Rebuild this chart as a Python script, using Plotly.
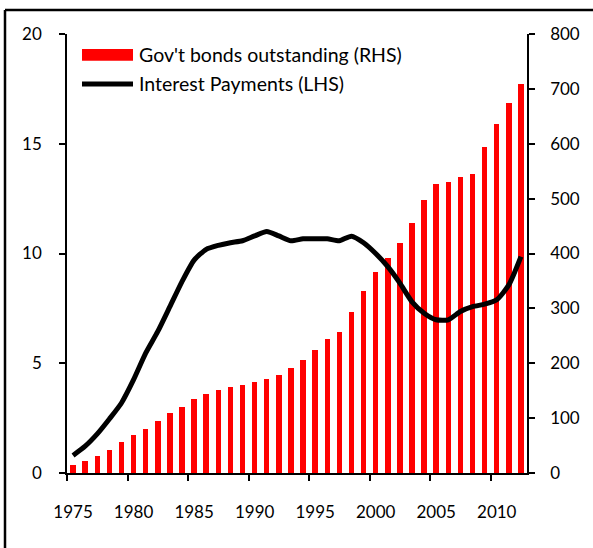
import plotly.graph_objects as go

# Annual series, 1975-2012
years = list(range(1975, 2013))

# Government bonds outstanding (right-hand scale)
bonds_outstanding = [
    14, 21, 31, 42, 56, 70, 81, 95, 109, 121,
    134, 144, 151, 156, 161, 165, 172, 178, 192, 206,
    224, 244, 257, 294, 332, 367, 392, 420, 456, 498,
    526, 531, 540, 545, 594, 636, 675, 709,
]

# Interest payments (left-hand scale)
interest_payments = [
    0.80, 1.22, 1.78, 2.46, 3.19, 4.25, 5.46, 6.45, 7.58, 8.72,
    9.70, 10.19, 10.37, 10.49, 10.58, 10.80, 11.00, 10.80, 10.58, 10.67,
    10.67, 10.67, 10.58, 10.79, 10.49, 10.00, 9.40, 8.65, 7.80, 7.28,
    6.98, 6.98, 7.36, 7.58, 7.69, 7.89, 8.57, 9.86,
]

x_labels = [1975, 1980, 1985, 1990, 1995, 2000, 2005, 2010]
left_ticks = [0, 5, 10, 15, 20]
right_ticks = [0, 100, 200, 300, 400, 500, 600, 700, 800]

bar_name = "Gov't bonds outstanding (RHS)"
line_name = "Interest Payments (LHS)"

FONT = "Lato"
W, H = 593, 548
ML, MR, MT, MB = 67, 66, 34, 74.5
PW, PH = W - ML - MR, H - MT - MB


def px_x(p):
    return (p - ML) / PW


def px_y(p):
    return (H - MB - p) / PH


fig = go.Figure()

fig.add_trace(go.Bar(
    x=years, y=bonds_outstanding, name=bar_name,
    marker=dict(color="#ff0000", line=dict(width=0)),
    width=0.45, yaxis="y", showlegend=False,
))

fig.add_trace(go.Scatter(
    x=years, y=interest_payments, name=line_name, mode="lines",
    line=dict(color="#000000", width=5, shape="spline", smoothing=0.6),
    yaxis="y2", showlegend=False,
))

axis_common = dict(
    showline=True, linecolor="#000000", linewidth=1.5,
    ticks="outside", ticklen=6, tickcolor="#000000", tickwidth=1.5,
    showgrid=False, zeroline=False,
    tickfont=dict(family=FONT, size=17, color="#000000"),
)

fig.update_layout(
    width=W, height=H,
    margin=dict(l=ML, r=MR, t=MT, b=MB),
    paper_bgcolor="white", plot_bgcolor="white",
    bargap=0,
    xaxis=dict(
        range=[1974.5, 2012.5],
        showline=True, linecolor="#000000", linewidth=1.5,
        showgrid=False, zeroline=False,
        tickmode="array", tickvals=x_labels, ticks="",
        ticklabelstandoff=23,
        tickfont=dict(family=FONT, size=17, color="#000000"),
        minor=dict(
            tickmode="array",
            tickvals=[v - 0.5 for v in x_labels],
            ticks="outside", ticklen=6, tickcolor="#000000", tickwidth=1.5,
            showgrid=False,
        ),
    ),
    yaxis=dict(
        range=[0, 800], side="right",
        tickmode="array", tickvals=right_ticks,
        ticklabelstandoff=12,
        **axis_common,
    ),
    yaxis2=dict(
        range=[0, 20], side="left", overlaying="y",
        tickmode="array", tickvals=left_ticks,
        ticklabelstandoff=14,
        **axis_common,
    ),
)

# Legend drawn by hand: wide red swatch and thick black line
fig.add_shape(type="rect", xref="paper", yref="paper",
              x0=px_x(82), x1=px_x(133), y0=px_y(60.7), y1=px_y(49),
              fillcolor="#ff0000", line=dict(width=0))
fig.add_shape(type="line", xref="paper", yref="paper",
              x0=px_x(82), x1=px_x(133), y0=px_y(84), y1=px_y(84),
              line=dict(color="#000000", width=5))
for label, ypix in [(bar_name, 55), (line_name, 84)]:
    fig.add_annotation(
        xref="paper", yref="paper", x=px_x(137), y=px_y(ypix),
        xanchor="left", yanchor="middle", showarrow=False, text=label,
        font=dict(family=FONT, size=19.5, color="#000000"),
    )

# Outer frame along the left and top of the figure
fig.add_shape(type="line", xref="paper", yref="paper",
              x0=px_x(5), x1=px_x(5), y0=px_y(560), y1=px_y(10),
              line=dict(color="#000000", width=2.5))
fig.add_shape(type="line", xref="paper", yref="paper",
              x0=px_x(5), x1=px_x(610), y0=px_y(10), y1=px_y(10),
              line=dict(color="#000000", width=2.5))

fig.write_html("out.html")
